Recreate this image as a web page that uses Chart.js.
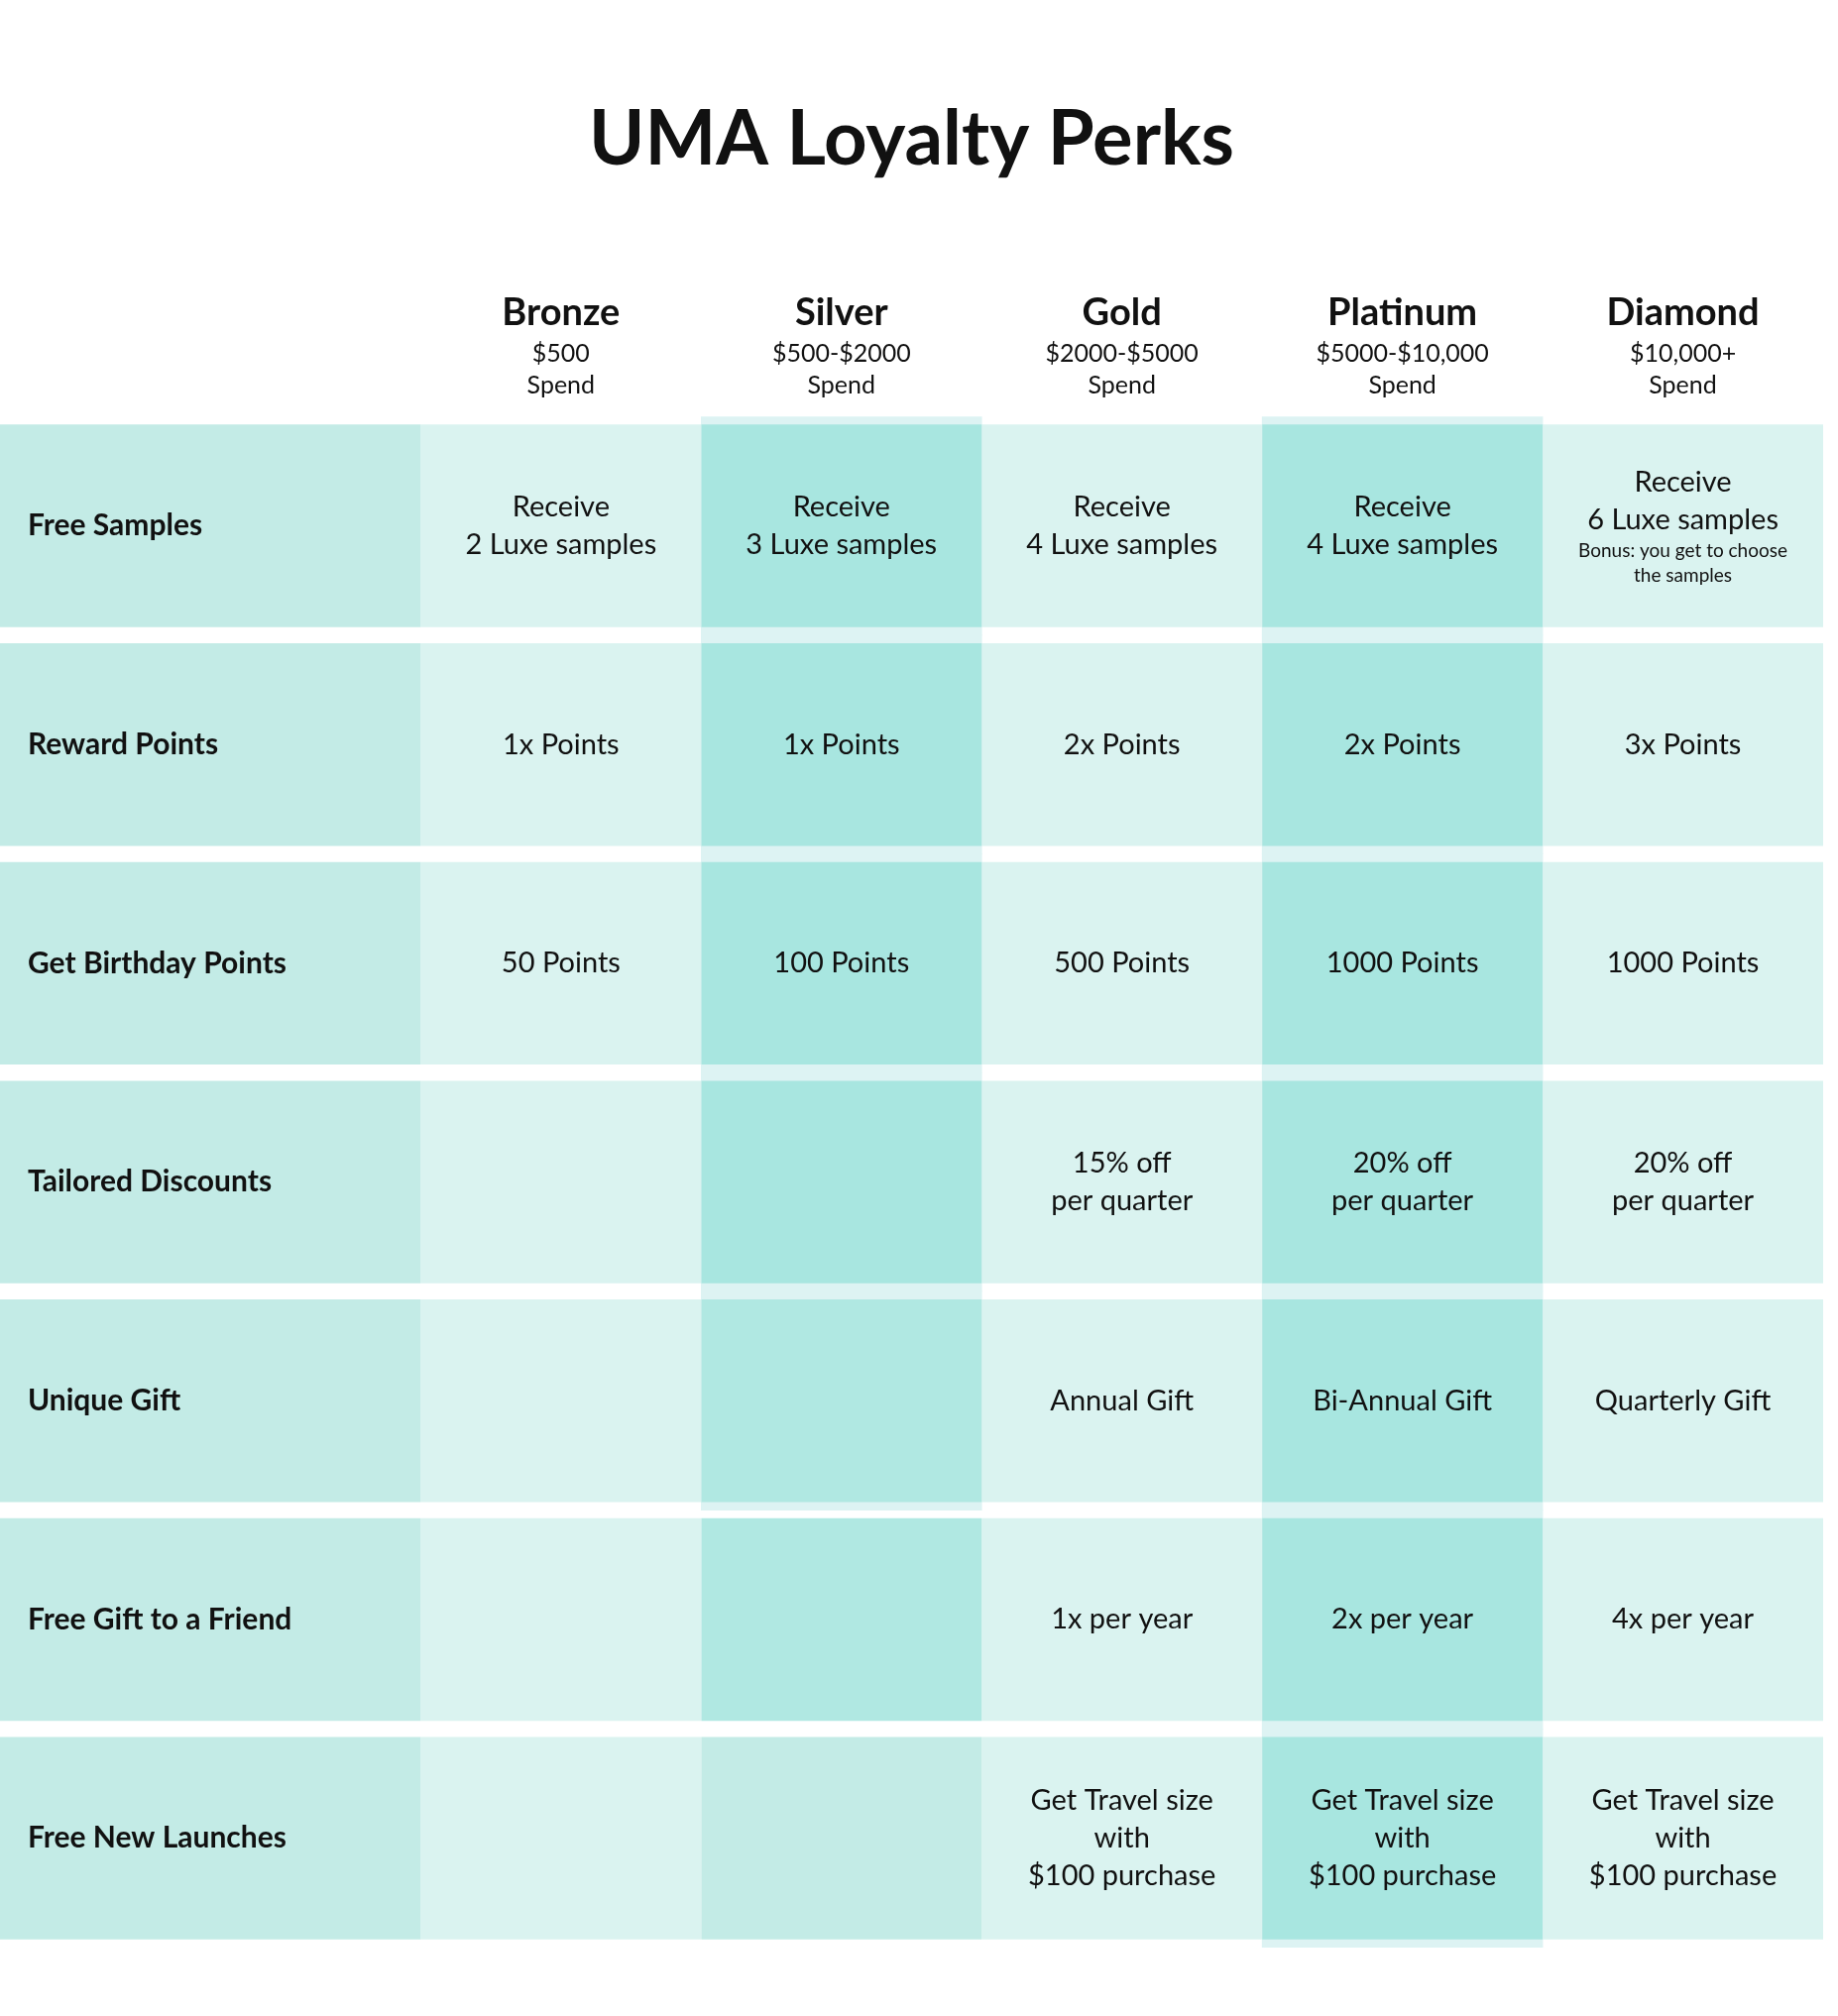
<!DOCTYPE html>
<html>
<head>
<meta charset="utf-8">
<script src="https://cdn.jsdelivr.net/npm/chart.js@4"></script>
<style>
  html, body { margin: 0; padding: 0; background: #fff; }
  #wrap { width: 1854px; height: 2034px; }
</style>
</head>
<body>
<div id="wrap"><canvas id="perks"></canvas></div>
<script>
// ---- data ----
const perks = ["Free Samples", "Reward Points", "Get Birthday Points", "Tailored Discounts",
  "Unique Gift", "Free Gift to a Friend", "Free New Launches"];
const tiers = ["Bronze", "Silver", "Gold", "Platinum", "Diamond"];
const tierSpend = ["$500", "$500-$2000", "$2000-$5000", "$5000-$10,000", "$10,000+"];
// column bounds on the x scale (label column is 1.5 wide)
const colStart = [0, 1.5, 2.5, 3.5, 4.5, 5.5];
const colEnd = [1.5, 2.5, 3.5, 4.5, 5.5, 6.5];

const bronzeText = [["Receive", "2 Luxe samples"], ["1x Points"], ["50 Points"], [], [], [], []];
const silverText = [["Receive", "3 Luxe samples"], ["1x Points"], ["100 Points"], [], [], [], []];
const goldText = [["Receive", "4 Luxe samples"], ["2x Points"], ["500 Points"], ["15% off", "per quarter"],
  ["Annual Gift"], ["1x per year"], ["Get Travel size", "with", "$100 purchase"]];
const platinumText = [["Receive", "4 Luxe samples"], ["2x Points"], ["1000 Points"], ["20% off", "per quarter"],
  ["Bi-Annual Gift"], ["2x per year"], ["Get Travel size", "with", "$100 purchase"]];
const diamondText = [["Receive", "6 Luxe samples"], ["3x Points"], ["1000 Points"], ["20% off", "per quarter"],
  ["Quarterly Gift"], ["4x per year"], ["Get Travel size", "with", "$100 purchase"]];
const diamondBonus = ["Bonus: you get to choose", "the samples"];
const cellText = [bronzeText, silverText, goldText, platinumText, diamondText];

// colours
const labelColor = "#c3ebe6";
const lightColor = "#daf3f0";
const darkColor = "#a8e6e0";
const gapColor = "#ddf3f3";
const silverColors = [darkColor, darkColor, darkColor, darkColor, "#b0e8e2", "#b0e8e2", "#c3ebe6"];

const FONT = "Lato, 'Open Sans', sans-serif";

function span(i) {
  return perks.map(() => [colStart[i], colEnd[i]]);
}

// ---- datasets ----
const datasets = [
  // light strips behind silver / platinum gaps
  { label: "silverGap", data: perks.map((p, r) => r <= 4 ? [colStart[2], colEnd[2]] : null),
    backgroundColor: gapColor, barPercentage: 1, categoryPercentage: 1, order: 2 },
  { label: "platGap", data: perks.map(() => [colStart[4], colEnd[4]]),
    backgroundColor: gapColor, barPercentage: 1, categoryPercentage: 1, order: 2 },
  { label: "Perk", data: span(0), backgroundColor: labelColor, order: 1 },
  { label: "Bronze", data: span(1), backgroundColor: lightColor, order: 1 },
  { label: "Silver", data: span(2), backgroundColor: silverColors, order: 1 },
  { label: "Gold", data: span(3), backgroundColor: lightColor, order: 1 },
  { label: "Platinum", data: span(4), backgroundColor: darkColor, order: 1 },
  { label: "Diamond", data: span(5), backgroundColor: lightColor, order: 1 }
];

// ---- text plugin ----
const textPlugin = {
  id: "tableText",
  afterDatasetsDraw(chart) {
    const { ctx, scales: { x, y }, chartArea } = chart;
    ctx.save();
    ctx.fillStyle = "#111";
    ctx.textBaseline = "middle";

    // header
    ctx.textAlign = "center";
    tiers.forEach((t, i) => {
      const cx = x.getPixelForValue((colStart[i + 1] + colEnd[i + 1]) / 2);
      ctx.font = "bold 38px " + FONT;
      ctx.fillText(t, cx, chartArea.top - 104);
      ctx.font = "25px " + FONT;
      ctx.fillText(tierSpend[i], cx, chartArea.top - 63);
      ctx.fillText("Spend", cx, chartArea.top - 31);
    });

    // row labels
    ctx.textAlign = "left";
    ctx.font = "bold 30px " + FONT;
    perks.forEach((p, r) => {
      ctx.fillText(p, x.getPixelForValue(0) + 28, y.getPixelForValue(r));
    });

    // cells
    ctx.textAlign = "center";
    const lh = 38;
    cellText.forEach((col, i) => {
      const cx = x.getPixelForValue((colStart[i + 1] + colEnd[i + 1]) / 2);
      col.forEach((lines, r) => {
        const cy = y.getPixelForValue(r);
        const extra = (i === 4 && r === 0) ? diamondBonus : [];
        const total = lines.length * lh + extra.length * 25;
        let ty = cy - total / 2 + lh / 2;
        ctx.font = "29px " + FONT;
        lines.forEach(l => { ctx.fillText(l, cx, ty); ty += lh; });
        ty -= lh / 2 - 12;
        ctx.font = "19px " + FONT;
        extra.forEach(l => { ctx.fillText(l, cx, ty); ty += 25; });
      });
    });
    ctx.restore();
  }
};

new Chart(document.getElementById("perks"), {
  type: "bar",
  data: { labels: perks, datasets },
  options: {
    indexAxis: "y",
    responsive: true,
    maintainAspectRatio: false,
    animation: false,
    devicePixelRatio: 1,
    datasets: { bar: { grouped: false, barPercentage: 0.926, categoryPercentage: 1, borderWidth: 0 } },
    layout: { padding: { top: 0, bottom: 69, left: 0, right: 15 } },
    scales: {
      x: { type: "linear", min: 0, max: 6.5, display: false },
      y: { type: "category", display: false }
    },
    plugins: {
      legend: { display: false },
      tooltip: { enabled: false },
      title: {
        display: true,
        text: "UMA Loyalty Perks",
        color: "#111",
        font: { family: FONT, size: 76, weight: "bold" },
        padding: { top: 96, bottom: 233 }
      }
    }
  },
  plugins: [textPlugin]
});
</script>
</body>
</html>
